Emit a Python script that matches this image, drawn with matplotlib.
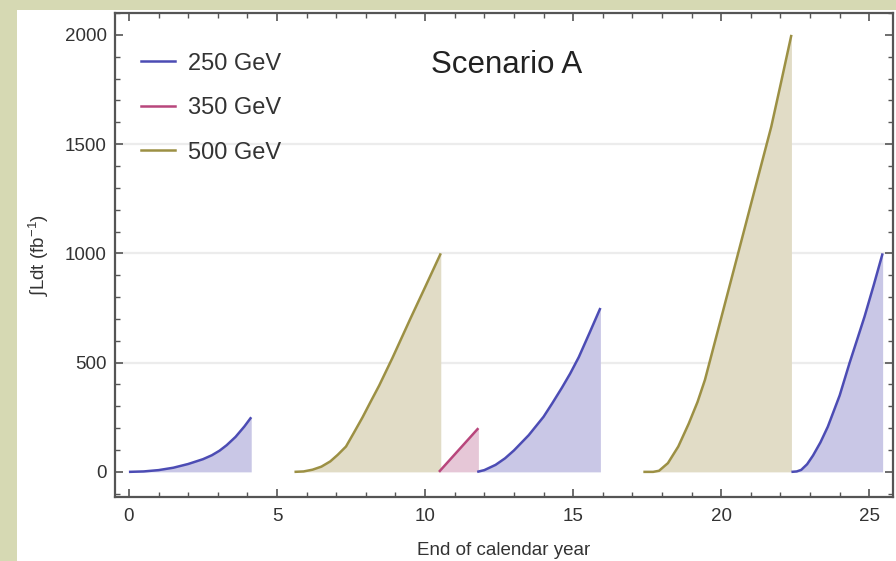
import matplotlib
matplotlib.use("Agg")
import matplotlib.pyplot as plt
from matplotlib.ticker import MultipleLocator

plt.rcParams['font.family'] = ['Liberation Sans', 'DejaVu Sans']
plt.rcParams['mathtext.fontset'] = 'custom'
plt.rcParams['mathtext.rm'] = 'Liberation Sans'
plt.rcParams['mathtext.it'] = 'Liberation Sans:italic'

# ---- data ----
energies = ["250 GeV", "350 GeV", "500 GeV"]

s1_x = [0.0, 0.5, 1.0, 1.5, 2.0, 2.5, 2.8, 3.06, 3.3, 3.6, 3.9, 4.13]
s1_y = [0, 2, 8, 19, 36, 58, 76, 97, 122, 160, 208, 250]

s2_x = [5.59, 5.9, 6.2, 6.5, 6.8, 7.05, 7.33, 7.6, 7.89, 8.15, 8.45, 8.9, 9.5, 10.0, 10.53]
s2_y = [0, 2, 10, 24, 48, 78, 116, 180, 250, 318, 395, 522, 700, 845, 1000]

s3_x = [10.47, 11.8]
s3_y = [0, 200]

s4_x = [11.76, 12.0, 12.38, 12.7, 13.0, 13.5, 14.0, 14.3, 14.62, 14.9, 15.19, 15.55, 15.92]
s4_y = [0, 8, 32, 62, 98, 168, 252, 315, 385, 450, 525, 635, 750]

s5_x = [17.37, 17.7, 17.9, 18.2, 18.55, 18.9, 19.2, 19.45, 20.0, 20.57, 21.1, 21.69, 22.0, 22.37]
s5_y = [0, 0, 5, 40, 116, 220, 320, 421, 705, 1000, 1275, 1580, 1770, 2000]

s6_x = [22.37, 22.55, 22.7, 22.9, 23.1, 23.35, 23.6, 24.0, 24.33, 24.6, 24.84, 25.15, 25.45]
s6_y = [0, 2, 9, 35, 75, 135, 207, 350, 497, 610, 711, 855, 1000]

segments = [
    (s1_x, s1_y, 0), (s2_x, s2_y, 2), (s3_x, s3_y, 1),
    (s4_x, s4_y, 0), (s5_x, s5_y, 2), (s6_x, s6_y, 0),
]

line_colors = ["#4c4cb4", "#b8467c", "#9c9044"]
fill_colors = ["#c9c7e6", "#e6c7d7", "#e1dcc6"]

xticks = [0, 5, 10, 15, 20, 25]
yticks = [0, 500, 1000, 1500, 2000]

# ---- figure ----
fig = plt.figure(figsize=(8.96, 5.61), dpi=100, facecolor="#d6d9b3")
bg = fig.add_axes([17 / 896, 0, 1 - 17 / 896, 1 - 10 / 561], zorder=-5)
bg.set_facecolor("white")
bg.set_xticks([])
bg.set_yticks([])
for sp in bg.spines.values():
    sp.set_visible(False)

ax = fig.add_axes([115 / 896, 1 - 497 / 561, (893 - 115) / 896, (497 - 13) / 561], zorder=1)
ax.set_facecolor("white")

for gy in [500, 1000, 1500]:
    ax.axhline(gy, color="#ececec", lw=1.6, zorder=0)

for xs, ys, k in segments:
    ax.fill_between(xs, 0, ys, color=fill_colors[k], lw=0, zorder=1)
    ax.plot(xs, ys, color=line_colors[k], lw=1.8, zorder=2,
            solid_capstyle="butt", solid_joinstyle="round")

for k, name in enumerate(energies):
    ax.plot([], [], color=line_colors[k], lw=1.8, label=name)

leg = ax.legend(loc="upper left", bbox_to_anchor=(0.012, 0.952), frameon=False,
                fontsize=17, handlelength=1.45, handletextpad=0.55,
                labelspacing=0.95, borderaxespad=0.3)
for t in leg.get_texts():
    t.set_color("#333333")

ax.set_xlim(-0.47, 25.8)
ax.set_ylim(-115, 2100)
ax.set_xticks(xticks)
ax.set_yticks(yticks)
ax.xaxis.set_minor_locator(MultipleLocator(1))
ax.yaxis.set_minor_locator(MultipleLocator(100))
ax.tick_params(which="both", direction="in", top=True, right=True,
               color="#555555", labelsize=13.5, labelcolor="#333333")
ax.tick_params(which="major", length=6, width=1.2, pad=6)
ax.tick_params(which="minor", length=3.5, width=1.0)
ax.tick_params(axis="x", pad=8)
for sp in ax.spines.values():
    sp.set_color("#555555")
    sp.set_linewidth(1.6)

ax.text(0.504, 0.893, "Scenario A", transform=ax.transAxes, ha="center",
        va="center", fontsize=22.5, color="#222222")

ax.set_xlabel("End of calendar year", fontsize=13.5, color="#333333", labelpad=12)
ax.set_ylabel(r"$\int$Ldt (fb$^{-1}$)", fontsize=13.5, color="#333333", labelpad=10)

fig.savefig("out.png", dpi=100, facecolor=fig.get_facecolor())
